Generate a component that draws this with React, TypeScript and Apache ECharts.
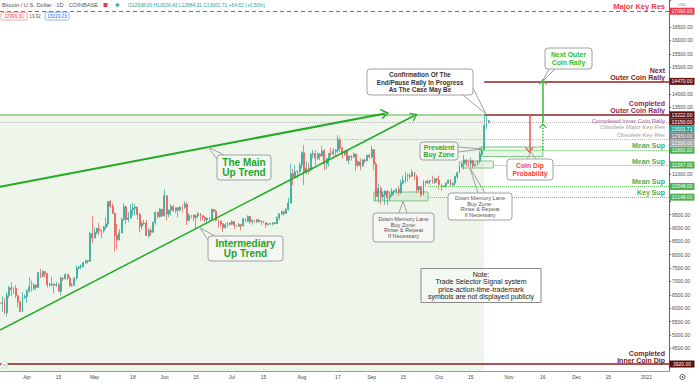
import React, { useEffect, useRef } from 'react';
import * as echarts from 'echarts';

const FONT = '"Liberation Sans", Arial, sans-serif';

// Daily candles, each row [open, close, low, high]
const mar2020 = [
  [6200, 6190, 5670, 6900], [6190, 6200, 5860, 6450], [6200, 5830, 5780, 6390], [5830, 6480, 5700, 6600],
  [6480, 6770, 6380, 6840], [6770, 6700, 6460, 6980], [6700, 6750, 6540, 6790], [6750, 6470, 6370, 6870],
  [6470, 6240, 6030, 6480], [6240, 5880, 5870, 6270], [5880, 6400, 5860, 6600], [6400, 6440, 6340, 6520],
];
const apr2020 = [
  [6440, 6640, 6200, 6720], [6640, 6800, 6590, 7170], [6800, 6740, 6620, 7040], [6740, 6870, 6670, 6940],
  [6870, 6780, 6680, 6890], [6780, 7340, 6780, 7360], [7340, 7200, 7120, 7470], [7200, 7370, 7150, 7420],
  [7370, 7300, 7160, 7380], [7300, 6870, 6780, 7300], [6870, 6890, 6800, 6950], [6890, 6910, 6820, 7180],
  [6910, 6860, 6560, 6910], [6860, 6880, 6800, 6990], [6880, 6640, 6620, 6940], [6640, 7120, 6480, 7190],
  [7120, 7100, 7020, 7160], [7100, 7260, 7070, 7310], [7260, 7130, 7060, 7270], [7130, 6850, 6800, 7220],
  [6850, 6860, 6800, 6940], [6860, 7130, 6850, 7160], [7130, 7500, 7040, 7600], [7500, 7540, 7440, 7580],
  [7540, 7560, 7460, 7640], [7560, 7710, 7520, 7720], [7710, 7780, 7660, 7800], [7780, 7760, 7660, 7790],
  [7760, 8790, 7730, 8850], [8790, 8620, 8430, 9460],
];
const may2020 = [
  [8620, 8830, 8620, 9020], [8830, 8980, 8760, 9000], [8980, 8900, 8720, 9190], [8900, 8890, 8620, 8950],
  [8890, 9030, 8820, 9080], [9030, 9150, 8950, 9390], [9150, 9990, 9040, 9990], [9990, 9810, 9730, 10040],
  [9810, 9540, 9520, 9920], [9540, 8720, 8120, 9570], [8720, 8560, 8200, 9150], [8560, 8810, 8530, 8960],
  [8810, 9310, 8790, 9400], [9310, 9790, 9270, 9930], [9790, 9310, 9130, 9840], [9310, 9380, 9210, 9590],
  [9380, 9670, 9340, 9880], [9670, 9730, 9460, 9940], [9730, 9780, 9460, 9890], [9780, 9500, 9310, 9800],
  [9500, 9060, 8830, 9560], [9060, 9170, 8950, 9260], [9170, 9180, 9110, 9300], [9180, 8720, 8700, 9300],
  [8720, 8900, 8630, 8980], [8900, 8840, 8700, 9010], [8840, 9200, 8820, 9230], [9200, 9580, 9120, 9620],
  [9580, 9430, 9340, 9600], [9430, 9700, 9380, 9740], [9700, 9450, 9400, 9700],
];
const jun2020 = [
  [9450, 10200, 9420, 10430], [10200, 9520, 9270, 10230], [9520, 9660, 9400, 9690], [9660, 9800, 9470, 9880],
  [9800, 9650, 9590, 9860], [9650, 9750, 9550, 9760], [9750, 9670, 9390, 9780], [9670, 9780, 9600, 9800],
  [9780, 9770, 9580, 9880], [9770, 9890, 9710, 9990], [9890, 9280, 9110, 9960], [9280, 9470, 9250, 9550],
  [9470, 9480, 9360, 9490], [9480, 9390, 9260, 9490], [9390, 9450, 8940, 9510], [9450, 9530, 9370, 9580],
  [9530, 9460, 9260, 9560], [9460, 9390, 9290, 9480], [9390, 9300, 9220, 9440], [9300, 9360, 9200, 9400],
  [9360, 9300, 9260, 9410], [9300, 9690, 9290, 9720], [9690, 9630, 9580, 9700], [9630, 9290, 9250, 9680],
  [9290, 9250, 9000, 9320], [9250, 9160, 9050, 9280], [9160, 9010, 8850, 9180], [9010, 9120, 8970, 9180],
  [9120, 9190, 9020, 9230], [9190, 9140, 9080, 9200],
];
const jul2020 = [
  [9140, 9230, 9100, 9300], [9230, 9090, 8950, 9260], [9090, 9060, 9030, 9120], [9060, 9130, 9050, 9190],
  [9130, 9080, 8910, 9130], [9080, 9340, 9050, 9370], [9340, 9250, 9200, 9360], [9250, 9430, 9230, 9470],
  [9430, 9230, 9150, 9440], [9230, 9290, 9120, 9310], [9290, 9240, 9200, 9300], [9240, 9300, 9180, 9340],
  [9300, 9240, 9200, 9340], [9240, 9250, 9110, 9280], [9250, 9190, 9170, 9270], [9190, 9130, 9000, 9210],
  [9130, 9150, 9090, 9190], [9150, 9160, 9120, 9190], [9160, 9190, 9090, 9220], [9190, 9160, 9130, 9210],
  [9160, 9390, 9150, 9430], [9390, 9530, 9280, 9540], [9530, 9600, 9470, 9640], [9600, 9540, 9450, 9650],
  [9540, 9700, 9540, 9730], [9700, 9930, 9650, 10120], [9930, 11030, 9910, 11400], [11030, 10910, 10600, 11200],
  [10910, 11100, 10870, 11340], [11100, 11110, 10850, 11170], [11110, 11350, 10980, 11450],
];
const aug2020 = [
  [11350, 11810, 11220, 11860], [11810, 11070, 10600, 12100], [11070, 11230, 11000, 11480], [11230, 11190, 11000, 11420],
  [11190, 11750, 11100, 11790], [11750, 11770, 11600, 11910], [11770, 11600, 11350, 11900], [11600, 11760, 11540, 11800],
  [11760, 11680, 11530, 11800], [11680, 11880, 11680, 12060], [11880, 11400, 11150, 11950], [11400, 11580, 11200, 11620],
  [11580, 11780, 11290, 11800], [11780, 11770, 11660, 12000], [11770, 11860, 11690, 11980], [11860, 11910, 11700, 11940],
  [11910, 12290, 11800, 12470], [12290, 11970, 11830, 12400], [11970, 11750, 11580, 12030], [11750, 11870, 11680, 11880],
  [11870, 11520, 11500, 11890], [11520, 11680, 11380, 11690], [11680, 11650, 11520, 11710], [11650, 11760, 11610, 11820],
  [11760, 11340, 11130, 11770], [11340, 11470, 11260, 11530], [11470, 11320, 11150, 11590], [11320, 11540, 11290, 11560],
  [11540, 11510, 11420, 11580], [11510, 11710, 11490, 11720], [11710, 11650, 11590, 11780],
];
const sep2020 = [
  [11650, 11920, 11570, 12070], [11920, 11390, 11160, 11950], [11390, 10170, 10000, 11460], [10170, 10470, 9950, 10650],
  [10470, 10170, 9880, 10560], [10170, 10240, 10050, 10350], [10240, 10370, 9880, 10400], [10370, 10120, 9850, 10420],
  [10120, 10230, 10010, 10350], [10230, 10340, 10180, 10490], [10340, 10390, 10200, 10400], [10390, 10440, 10280, 10480],
  [10440, 10330, 10210, 10560], [10330, 10680, 10260, 10800], [10680, 10790, 10620, 10950], [10790, 10950, 10680, 11100],
  [10950, 10940, 10740, 11040], [10940, 10930, 10820, 11040], [10930, 11080, 10900, 11180], [11080, 10920, 10780, 11080],
  [10920, 10420, 10290, 10990], [10420, 10540, 10350, 10570], [10540, 10240, 10140, 10560], [10240, 10740, 10200, 10780],
  [10740, 10690, 10560, 10760], [10690, 10730, 10650, 10800], [10730, 10770, 10630, 10800], [10770, 10700, 10650, 10950],
  [10700, 10840, 10640, 10860], [10840, 10780, 10680, 10850],
];
const oct2020 = [
  [10780, 10620, 10440, 10950], [10620, 10570, 10380, 10650], [10570, 10550, 10520, 10600], [10550, 10670, 10510, 10690],
  [10670, 10790, 10640, 10800], [10790, 10600, 10530, 10800], [10600, 10670, 10580, 10690], [10670, 10920, 10550, 10960],
  [10920, 11060, 10830, 11110], [11060, 11300, 11050, 11490], [11300, 11380, 11280, 11440], [11380, 11540, 11180, 11720],
  [11540, 11430, 11300, 11560], [11430, 11420, 11290, 11550], [11420, 11500, 11270, 11630], [11500, 11320, 11220, 11540],
  [11320, 11360, 11300, 11400], [11360, 11500, 11340, 11520], [11500, 11750, 11410, 11820], [11750, 11920, 11690, 12030],
  [11920, 12820, 11900, 13220], [12820, 12938, 12690, 13200], [12938, 13001.71, 12884.31, 13026.43],
];

// x-axis tick labels
const tickLabels: [string, string][] = [
  ['2020-04-01', 'Apr'], ['2020-04-15', '15'], ['2020-05-01', 'May'], ['2020-05-18', '18'],
  ['2020-06-01', 'Jun'], ['2020-06-15', '15'], ['2020-07-01', 'Jul'], ['2020-07-15', '15'],
  ['2020-08-01', 'Aug'], ['2020-08-17', '17'], ['2020-09-01', 'Sep'], ['2020-09-15', '15'],
  ['2020-10-01', 'Oct'], ['2020-10-15', '15'], ['2020-11-01', 'Nov'], ['2020-11-16', '16'],
  ['2020-12-01', 'Dec'], ['2020-12-15', '15'], ['2021-01-01', '2021'],
];

// price levels
const majorKeyRes = 17090;
const nextOuterRally = 14470;
const completedOuterRally = 13222;
const completedInnerRally = 13150;
const lastPrice = 13001.71;
const obsoleteMajorRes = 12930;
const obsoleteKeyRes = 12300;
const meanSup1 = 11900;
const meanSup2 = 11347;
const meanSup3 = 10548;
const keySup = 10148;
const innerCoinDip = 3920;

// zones [fromDate, toDate, low, high]
const shadeZone: [string, string, number, number] = ['2020-03-20', '2020-10-21', 3659, 13222];
const memoryZone1: [string, string, number, number] = ['2020-09-02', '2020-09-26', 10010, 10340];
const memoryZone2: [string, string, number, number] = ['2020-10-11', '2020-10-25', 11237, 11498];
const prevalentZone: [string, string, number, number] = ['2020-10-19', '2020-11-16', 11665, 12021];

// trend lines / arrows [date, price]
const mainTrend: [string, number][] = [['2020-03-20', 10539], ['2020-09-07', 13275]];
const interTrend: [string, number][] = [['2020-03-20', 5189], ['2020-09-20', 13196]];
const dipArrow: [string, number][] = [['2020-11-10', 13222], ['2020-11-10', 11900]];
const rallyArrow: [string, number][] = [['2020-11-16', 12930], ['2020-11-16', 14470]];
const rallyArrowBase: [string, number][] = [['2020-11-16', 11900], ['2020-11-16', 12820]];

const Y_MIN = 3659;
const Y_MAX = 17508;
const hiddenYLabels = [4000, 10000, 10500, 11500, 12000, 12500, 13000, 14500, 17000, 17500];

const CHEVRON = 'path://M0,10L5,0L10,10L8.4,10L5,3.2L1.6,10Z';

function buildCategories(): string[] {
  const out: string[] = [];
  const start = Date.UTC(2020, 2, 20);
  for (let i = 0; i < 298; i++) {
    const d = new Date(start + i * 86400000);
    const m = String(d.getUTCMonth() + 1).padStart(2, '0');
    const dd = String(d.getUTCDate()).padStart(2, '0');
    out.push(`${d.getUTCFullYear()}-${m}-${dd}`);
  }
  return out;
}

export default function App() {
  const ref = useRef<HTMLDivElement>(null);

  useEffect(() => {
    if (!ref.current) return;
    const chart = echarts.init(ref.current, undefined, { renderer: 'svg' });
    const categories = buildCategories();
    const candles = [...mar2020, ...apr2020, ...may2020, ...jun2020, ...jul2020, ...aug2020, ...sep2020, ...oct2020];
    const tickMap = new Map(tickLabels);
    const lastCat = categories[categories.length - 1];

    const hLine = (v: number, color: string, type: any, width = 1) => ({ yAxis: v, lineStyle: { color, type, width } });
    const seg = (a: [string, number], b: [string, number], color: string, type: any, width: number, endSym?: string, endSize?: number[]) => [
      { coord: a, symbol: 'none', lineStyle: { color, type, width } },
      { coord: b, symbol: endSym || 'none', symbolSize: endSize || 0 },
    ];
    const zone = (z: [string, string, number, number], style: any) => [
      { coord: [z[0], z[2]], itemStyle: style },
      { coord: [z[1], z[3]] },
    ];
    const greenDot = '#6cc46c';
    const zoneStyle = { color: 'rgba(129,199,132,0.16)', borderColor: '#81c784', borderWidth: 1 };

    const option: any = {
      animation: false,
      backgroundColor: '#ffffff',
      grid: { left: 0, right: 26, top: 0, bottom: 12, containLabel: false, outerBoundsMode: 'none' },
      xAxis: {
        type: 'category',
        data: categories,
        boundaryGap: false,
        axisLine: { lineStyle: { color: '#9a9a9a', width: 1 } },
        axisTick: { show: false },
        splitLine: { show: false },
        axisLabel: {
          interval: (_i: number, v: string) => tickMap.has(v),
          formatter: (v: string) => tickMap.get(v) || '',
          fontSize: 5, color: '#4a4a4a', margin: 3, fontFamily: FONT,
        },
      },
      yAxis: {
        type: 'value', position: 'right', min: Y_MIN, max: Y_MAX, splitNumber: 28,
        axisLine: { show: true, lineStyle: { color: '#666666' } },
        axisTick: { show: true, length: 2, lineStyle: { color: '#666666' } },
        splitLine: { show: false },
        axisLabel: {
          fontSize: 5, color: '#4a4a4a', margin: 3, fontFamily: FONT,
          showMinLabel: false, showMaxLabel: false,
          formatter: (v: number) => (hiddenYLabels.includes(v) || v % 500 !== 0 ? '' : v.toFixed(2)),
        },
      },
      series: [
        {
          type: 'candlestick',
          data: candles,
          barWidth: '62%',
          itemStyle: { color: '#26a69a', color0: '#ef5350', borderColor: '#26a69a', borderColor0: '#ef5350', borderWidth: 0.7 },
          markArea: {
            silent: true,
            data: [
              zone(shadeZone, { color: '#eef5eb', borderWidth: 0 }),
              zone(memoryZone1, zoneStyle),
              zone(memoryZone2, zoneStyle),
              zone(prevalentZone, zoneStyle),
            ],
          },
          markLine: {
            silent: true,
            symbol: ['none', 'none'],
            label: { show: false },
            emphasis: { disabled: true },
            data: [
              hLine(majorKeyRes, '#f44336', [4, 3], 1),
              seg([shadeZone[0], completedOuterRally], [shadeZone[1], completedOuterRally], '#a8d5a2', 'solid', 2),
              seg([shadeZone[1], completedOuterRally], [lastCat, completedOuterRally], '#a85c5c', 'solid', 2),
              seg([shadeZone[1], nextOuterRally], [lastCat, nextOuterRally], '#a85c5c', 'solid', 2),
              hLine(obsoleteMajorRes, '#b5b5b5', 'dotted', 1),
              seg(['2020-08-02', obsoleteKeyRes], [lastCat, obsoleteKeyRes], '#b5b5b5', 'dotted', 1),
              seg(['2020-10-19', meanSup1], [lastCat, meanSup1], greenDot, 'dotted', 1),
              seg(['2020-10-25', meanSup2], [lastCat, meanSup2], greenDot, 'dotted', 1),
              seg(['2020-09-26', meanSup3], [lastCat, meanSup3], greenDot, 'dotted', 1),
              seg(['2020-09-26', keySup], [lastCat, keySup], greenDot, 'dotted', 1),
              hLine(innerCoinDip, '#8b1c1c', 'solid', 1.5),
              seg(mainTrend[0], mainTrend[1], '#22aa22', 'solid', 2, CHEVRON, [11, 8]),
              seg(interTrend[0], interTrend[1], '#22aa22', 'solid', 1.5, CHEVRON, [10, 7]),
              seg(dipArrow[0], dipArrow[1], '#ef5350', 'solid', 1.5, CHEVRON, [9, 6]),
              seg(rallyArrow[0], rallyArrow[1], '#2fbf2f', 'solid', 1.5, CHEVRON, [9, 6]),
              seg(rallyArrowBase[0], rallyArrowBase[1], '#2fbf2f', 'dotted', 1.5, CHEVRON, [8, 5]),
            ],
          },
        },
      ],
    };
    chart.setOption(option);

    const py = (v: number) => chart.convertToPixel({ yAxisIndex: 0 }, v) as number;
    const els: any[] = [];
    const Z = 100;

    // axis price tags with overlap push-down
    const tags = [
      { v: majorKeyRes, bg: '#f23645' },
      { v: nextOuterRally, bg: '#6b1414' },
      { v: completedOuterRally, bg: '#5e1212' },
      { v: completedInnerRally, bg: '#701c1c' },
      { v: lastPrice, bg: '#26a69a' },
      { v: obsoleteMajorRes, bg: '#858585' },
      { v: obsoleteKeyRes, bg: '#a3a3a3' },
      { v: meanSup1, bg: '#4caf50' },
      { v: meanSup2, bg: '#4caf50' },
      { v: meanSup3, bg: '#4caf50' },
      { v: keySup, bg: '#4caf50' },
      { v: innerCoinDip, bg: '#5a0d0d' },
    ].map((t) => ({ ...t, y: py(t.v) })).sort((a, b) => a.y - b.y);
    let prev = -100;
    for (const t of tags) { t.y = Math.max(t.y, prev + 7); prev = t.y; }
    for (const t of tags) {
      els.push({ type: 'rect', z: Z, shape: { x: 669.5, y: t.y - 3.5, width: 25, height: 7 }, style: { fill: t.bg } });
      els.push({ type: 'text', z: Z + 1, x: 682, y: t.y, style: { text: t.v.toFixed(2), fill: '#ffffff', fontSize: 5, fontFamily: FONT, align: 'center', verticalAlign: 'middle' } });
    }

    // right-side level labels
    const rl = (text: string, y: number, fill: string, font: string) =>
      els.push({ type: 'text', z: Z, x: 665, y, style: { text, fill, font: `${font} ${FONT}`, align: 'right', verticalAlign: 'middle' } });
    rl('Major Key Res', 6, '#f23645', 'bold 7.5px');
    rl('Next', 70.3, '#7a1f1f', 'bold 7px');
    rl('Outer Coin Rally', 77, '#7a1f1f', 'bold 7px');
    rl('Completed', 103.6, '#902a5c', 'bold 7px');
    rl('Outer Coin Rally', 110.3, '#902a5c', 'bold 7px');
    rl('Completed Inner Coin Rally', 120.7, '#a8609a', '6px');
    rl('Obsolete Major Key Res', 127.3, '#9e9e9e', 'italic 6px');
    rl('Obsolete Key Res', 135, '#9e9e9e', 'italic 6px');
    rl('Mean Sup', 145, '#4caf50', 'bold 7px');
    rl('Mean Sup', 161, '#4caf50', 'bold 7px');
    rl('Mean Sup', 181.7, '#4caf50', 'bold 7px');
    rl('Key Sup', 192.3, '#4caf50', 'bold 7px');
    rl('Completed', 353.8, '#7a1b1b', 'bold 7px');
    rl('Inner Coin Dip', 360.4, '#7a1b1b', 'bold 7px');

    // callouts
    const callout = (x: number, y: number, w: number, h: number, target: number[], b1: number[], b2: number[],
      lines: string[], fill: string, font: string, lh: number, boxFill = 'rgba(246,246,246,0.95)') => {
      els.push({ type: 'polyline', z: Z, shape: { points: [b1, target, b2] }, style: { stroke: '#a0a0a0', lineWidth: 1, fill: 'none' } });
      els.push({ type: 'rect', z: Z, shape: { x, y, width: w, height: h, r: 3 }, style: { fill: boxFill, stroke: '#a0a0a0', lineWidth: 1 } });
      els.push({ type: 'text', z: Z + 1, x: x + w / 2, y: y + h / 2, style: { text: lines.join('\n'), fill, font: `${font} ${FONT}`, lineHeight: lh, align: 'center', verticalAlign: 'middle' } });
    };
    callout(367, 69, 106, 26, [486, 114], [463, 95], [473, 88],
      ['Confirmation Of The', 'End/Pause Rally In Progress', 'As The Case May Be'], '#333333', 'bold 6.4px', 7.2, 'rgba(255,255,255,0.97)');
    callout(217, 155, 54, 25, [208, 147], [217, 159], [224, 155], ['The Main', 'Up Trend'], '#1ea51e', 'bold 10px', 10);
    callout(208, 236, 75, 25, [200, 228], [208, 240], [215, 236], ['Intermediary', 'Up Trend'], '#1ea51e', 'bold 10px', 10);
    callout(420, 142, 38, 18, [482, 149], [458, 147], [458, 152], ['Prevalent', 'Buy Zone'], '#2eaa2e', 'bold 6.8px', 7.2);
    callout(373, 213, 61, 29, [403, 201], [399, 213], [407, 213], ['Down Memory Lane', 'Buy Zone:', 'Rinse & Repeat', 'If Necessary'], '#555555', '5.6px', 5.8);
    callout(448, 193, 64, 27, [470, 168], [478, 193], [485, 193], ['Down Memory Lane', 'Buy Zone:', 'Rinse & Repeat', 'If Necessary'], '#555555', '5.6px', 5.8, 'rgba(255,255,255,0.97)');
    callout(507, 159, 46, 21, [531, 152], [527, 159], [536, 159], ['Coin Dip', 'Probability'], '#f44336', 'bold 6.8px', 7.4, 'rgba(255,255,255,0.97)');
    callout(545, 48, 47, 21, [542, 82], [549, 69], [555, 69], ['Next Outer', 'Coin Rally'], '#2fbf2f', 'bold 6.9px', 7.6, 'rgba(255,255,255,0.97)');

    // note box
    els.push({ type: 'rect', z: Z, shape: { x: 421, y: 268.5, width: 120, height: 34 }, style: { fill: 'rgba(255,255,255,0.35)', stroke: '#8a8a8a', lineWidth: 1 } });
    els.push({ type: 'text', z: Z + 1, x: 481, y: 285.5, style: {
      text: 'Note:\nTrade Selector Signal system\nprice-action-time-trademark\nsymbols are not displayed publicly',
      fill: '#222222', font: `7px ${FONT}`, lineHeight: 7.6, align: 'center', verticalAlign: 'middle' } });

    // header
    els.push({ type: 'text', z: Z, x: 2, y: 5, style: { text: 'Bitcoin / U.S. Dollar · 1D · COINBASE', fill: '#555555', font: `5.7px ${FONT}`, verticalAlign: 'middle' } });
    els.push({ type: 'rect', z: Z, shape: { x: 103.5, y: 3, width: 4, height: 4 }, style: { fill: '#f23645' } });
    els.push({ type: 'circle', z: Z, shape: { cx: 117.5, cy: 5, r: 2.6 }, style: { fill: '#c8ebe6' } });
    els.push({ type: 'circle', z: Z, shape: { cx: 117.5, cy: 5, r: 1.5 }, style: { fill: '#26a69a' } });
    els.push({ type: 'text', z: Z, x: 128, y: 5.3, style: { text: 'O12938.00 H13026.43 L12884.31 C13001.71 +64.62 (+0.50%)', fill: '#26a69a', font: `4.9px ${FONT}`, verticalAlign: 'middle' } });
    els.push({ type: 'rect', z: Z, shape: { x: 1, y: 12.3, width: 26, height: 7.7, r: 1.5 }, style: { fill: '#ffffff', stroke: '#f7a3a3', lineWidth: 1 } });
    els.push({ type: 'text', z: Z + 1, x: 14, y: 16.2, style: { text: '12999.31', fill: '#f23645', font: `4.7px ${FONT}`, align: 'center', verticalAlign: 'middle' } });
    els.push({ type: 'text', z: Z + 1, x: 35, y: 16.2, style: { text: '19.92', fill: '#555555', font: `4.5px ${FONT}`, align: 'center', verticalAlign: 'middle' } });
    els.push({ type: 'rect', z: Z, shape: { x: 45, y: 12.3, width: 24, height: 7.7, r: 1.5 }, style: { fill: '#ffffff', stroke: '#90b8f8', lineWidth: 1 } });
    els.push({ type: 'text', z: Z + 1, x: 57, y: 16.2, style: { text: '13019.23', fill: '#2962ff', font: `4.7px ${FONT}`, align: 'center', verticalAlign: 'middle' } });

    // small ui bits
    els.push({ type: 'text', z: Z, x: 682, y: 4.5, style: { text: 'USD', fill: '#888888', font: `4px ${FONT}`, align: 'center', verticalAlign: 'middle' } });
    els.push({ type: 'circle', z: Z, shape: { cx: 4.5, cy: 365, r: 3.2 }, style: { fill: '#ffffff', stroke: '#cccccc', lineWidth: 0.8 } });
    els.push({ type: 'text', z: Z + 1, x: 4.5, y: 365, style: { text: '×', fill: '#888888', font: `6px ${FONT}`, align: 'center', verticalAlign: 'middle' } });
    els.push({ type: 'circle', z: Z, shape: { cx: 682.5, cy: 377, r: 2.6 }, style: { fill: 'none', stroke: '#555555', lineWidth: 1 } });
    els.push({ type: 'circle', z: Z, shape: { cx: 682.5, cy: 377, r: 0.9 }, style: { fill: '#555555' } });

    chart.setOption({ graphic: { elements: els } });

    return () => chart.dispose();
  }, []);

  return <div ref={ref} style={{ position: 'fixed', left: 0, top: 0, width: 695, height: 383 }} />;
}
